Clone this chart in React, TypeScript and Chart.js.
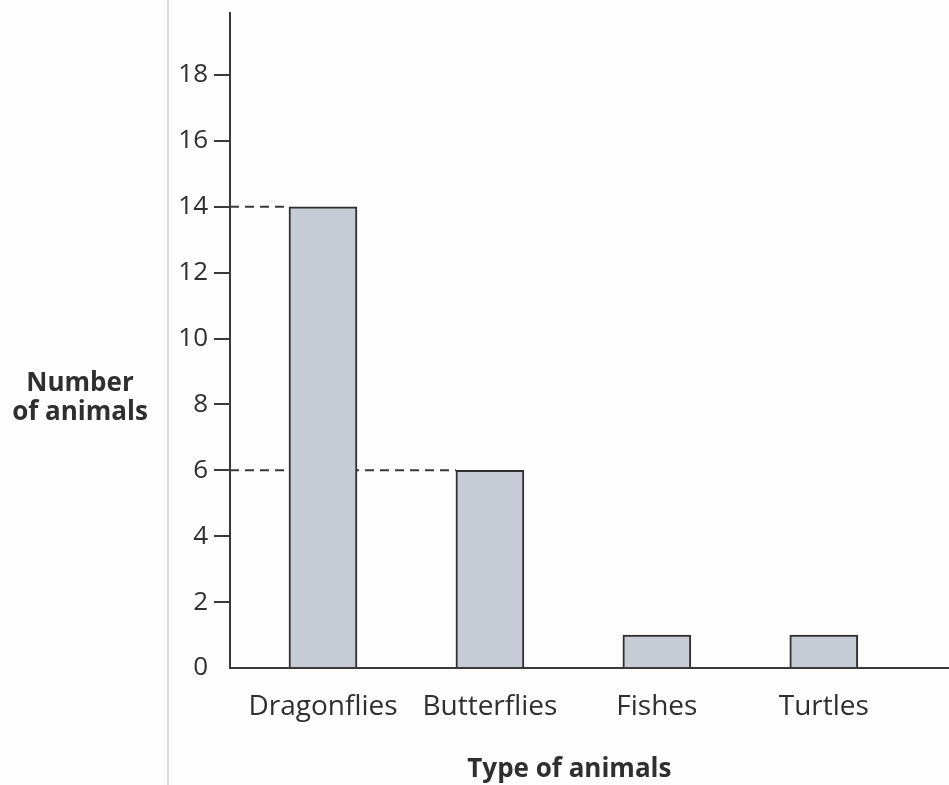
import React, { useEffect, useRef } from "react";
import { Chart, registerables } from "chart.js";

Chart.register(...registerables);

const categories: string[] = ["Dragonflies", "Butterflies", "Fishes", "Turtles"];
const counts: number[] = [14, 6, 1, 1];
const yTickValues: number[] = [0, 2, 4, 6, 8, 10, 12, 14, 16, 18];
const guideBarIndexes: number[] = [0, 1];
const yTitleLines: string[] = ["Number", "of animals"];
const xTitle = "Type of animals";

const FONT = "'Open Sans', 'Noto Sans', sans-serif";
const INK = "#2f2f2f";

const titlesPlugin = {
  id: "titlesPlugin",
  beforeDatasetsDraw(chart: any) {
    const { ctx } = chart;
    const meta = chart.getDatasetMeta(0);
    const xs = chart.scales.x;
    const ys = chart.scales.y;
    ctx.save();
    ctx.strokeStyle = "#3a3a3a";
    ctx.lineWidth = 2;
    ctx.setLineDash([9, 6]);
    guideBarIndexes.forEach((i) => {
      const bar = meta.data[i];
      const y = ys.getPixelForValue(counts[i]);
      const left = bar.x - bar.width / 2;
      ctx.beginPath();
      ctx.moveTo(xs.left, y);
      ctx.lineTo(left, y);
      ctx.stroke();
    });
    ctx.restore();
  },
  afterDraw(chart: any) {
    const { ctx } = chart;
    const xs = chart.scales.x;
    const area = chart.chartArea;
    ctx.save();
    ctx.fillStyle = INK;
    ctx.font = `bold 26px ${FONT}`;
    ctx.textAlign = "center";
    ctx.textBaseline = "middle";
    ctx.fillText(xTitle, xs.getPixelForValue(1.5) - 4, area.bottom + 102);
    const cy = chart.scales.y.getPixelForValue(8.18);
    yTitleLines.forEach((line, k) => {
      ctx.fillText(line, 80, cy + (k - (yTitleLines.length - 1) / 2) * 29);
    });
    ctx.restore();
  },
};

export default function App() {
  const canvasRef = useRef<HTMLCanvasElement | null>(null);

  useEffect(() => {
    if (!canvasRef.current) return;
    const chart = new Chart(canvasRef.current, {
      type: "bar",
      data: {
        datasets: [
          {
            data: counts.map((v, i) => ({ x: i, y: v })),
            backgroundColor: "#c7cbd5",
            borderColor: INK,
            borderWidth: 2,
            barThickness: 68,
          } as any,
        ],
      },
      options: {
        animation: false,
        responsive: true,
        maintainAspectRatio: false,
        layout: { padding: { top: 13, left: 0, right: 0, bottom: 0 } },
        plugins: {
          legend: { display: false },
          tooltip: { enabled: false },
          title: { display: false },
        },
        scales: {
          x: {
            type: "linear",
            offset: false,
            min: -0.557,
            max: 3.75,
            afterBuildTicks: (scale: any) => {
              scale.ticks = categories.map((_, i) => ({ value: i }));
            },
            afterFit: (scale: any) => {
              scale.height = 117;
              scale.paddingLeft = 0;
              scale.paddingRight = 0;
            },
            grid: { display: false, drawTicks: false },
            border: { display: true, color: "#3a3a3a", width: 2 },
            ticks: {
              padding: 22,
              color: INK,
              font: { family: FONT, size: 28 },
              callback: (v: any) => categories[Math.round(Number(v))] ?? "",
              maxRotation: 0,
              autoSkip: false,
            },
          },
          y: {
            type: "linear",
            min: 0,
            max: 19.88,
            afterBuildTicks: (scale: any) => {
              scale.ticks = yTickValues.map((v) => ({ value: v }));
            },
            afterFit: (scale: any) => {
              scale.width = 230;
              scale.paddingTop = 0;
              scale.paddingBottom = 0;
            },
            grid: {
              display: true,
              drawOnChartArea: false,
              drawTicks: true,
              tickLength: 16,
              lineWidth: 2,
              color: (c: any) => (c.tick && c.tick.value === 0 ? "rgba(0,0,0,0)" : "#3a3a3a"),
            },
            border: { display: true, color: "#3a3a3a", width: 2 },
            ticks: {
              padding: 6,
              color: INK,
              font: { family: FONT, size: 26 },
            },
          },
        },
      },
      plugins: [titlesPlugin],
    });
    return () => chart.destroy();
  }, []);

  return (
    <div style={{ position: "absolute", left: 0, top: 0, width: 949, height: 785, background: "#fdfdfd" }}>
      <div style={{ position: "absolute", left: 167, top: 0, width: 2, height: 785, background: "#dedede" }} />
      <canvas ref={canvasRef} style={{ position: "relative" }} />
    </div>
  );
}
